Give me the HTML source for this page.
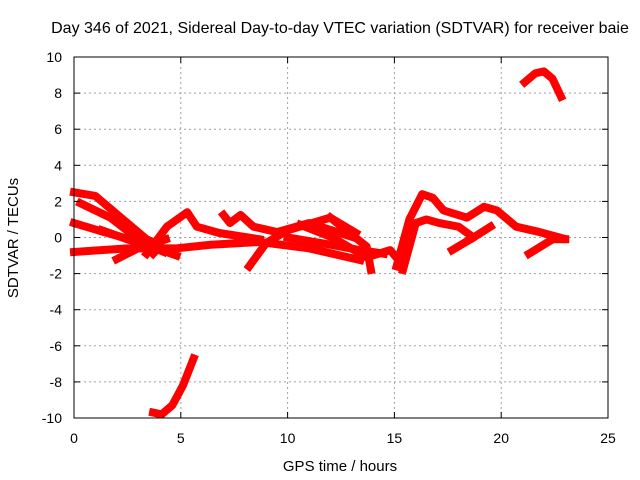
<!DOCTYPE html>
<html><head><meta charset="utf-8"><style>
body{margin:0;background:#fff}
svg{display:block;font-family:"Liberation Sans",sans-serif}
</style></head><body>
<svg id="chart" width="640" height="480">
<rect width="640" height="480" fill="#fff"/>
<g id="grid"></g><g id="tracks"></g><g id="axes"></g>
<text x="340" y="33" font-size="16" text-anchor="middle">Day 346 of 2021, Sidereal Day-to-day VTEC variation (SDTVAR) for receiver baie</text>
<text x="340" y="471" font-size="15" text-anchor="middle">GPS time / hours</text>
<text x="18" y="238" font-size="15" text-anchor="middle" transform="rotate(-90 18 238)">SDTVAR / TECUs</text>
</svg>
<script>
const xTicks=[0,5,10,15,20,25];
const yTicks=[-10,-8,-6,-4,-2,0,2,4,6,8,10];
const tAh=[0,1,1.4,2.5,3.4,4];           const tAv=[2.5,2.3,1.9,0.8,-0.1,-0.4];
const tBh=[0.3,1.7,2.9,3.7];             const tBv=[1.9,1.1,0,-0.9];
const tCh=[0,1.4,3.2,4.2];               const tCv=[0.8,0.3,-0.3,-0.8];
const tDh=[0,2.5,4.8,6.4,8.7,11,13.4];   const tDv=[-0.8,-0.6,-0.6,-0.4,-0.25,-0.6,-1.25];
const tEh=[3.4,4.35,5.3,5.75,6.8,8.7];   const tEv=[-0.9,0.6,1.4,0.6,0.25,-0.1];
const tFh=[7,7.3,7.8,8.4,9.5,11,13.1];   const tFv=[1.25,0.8,1.25,0.6,0.3,0.8,0];
const tGh=[8.2,9,10,12,13.2];            const tGv=[-1.6,-0.3,0.4,1.1,0.25];
const tHh=[1.3,2.5,3.6,4.8];             const tHv=[0.4,-0.1,-0.5,-1];
const tH2h=[2,3,4.3];                    const tH2v=[-1.2,-0.6,-0.1];
const tIh=[10.6,12.1,13.7,14.8,15.3];    const tIv=[0.7,0,-1.1,-0.7,-1.4];
const tJh=[12,13.7,13.9];                const tJv=[1.1,-0.5,-1.8];
const tKh=[15.1,15.7,16.3,16.8,17.3,18.4,19.2,19.8,20.7,21.8,22.9]; const tKv=[-1.6,1,2.4,2.2,1.5,1.1,1.7,1.5,0.6,0.3,-0.05];
const tLh=[15.4,16,16.5,17.1,18,18.7,17.7]; const tLv=[-1.8,0.8,1,0.8,0.6,0,-0.7];
const tMh=[18.7,19.5];                   const tMv=[0,0.6];
const tNh=[21.3,22.4,23];                const tNv=[-0.9,-0.1,-0.1];
const tOh=[10,12,13.4,14.5];             const tOv=[0,-0.4,-0.7,-0.9];
const tTopH=[21.1,21.6,22,22.4,22.8];    const tTopV=[8.6,9.1,9.2,8.8,7.8];
const tBotH=[3.7,4.1,4.6,5.1,5.6];       const tBotV=[-9.7,-9.8,-9.3,-8.2,-6.7];
const tracks=[[tAh,tAv],[tBh,tBv],[tCh,tCv],[tDh,tDv],[tEh,tEv],[tFh,tFv],[tGh,tGv],[tHh,tHv],[tH2h,tH2v],[tIh,tIv],[tJh,tJv],[tKh,tKv],[tLh,tLv],[tMh,tMv],[tNh,tNv],[tOh,tOv],[tTopH,tTopV],[tBotH,tBotV]];
const X0=74,X1=608,Y0=418,Y1=57;
const sx=h=>X0+(h-0)/(25-0)*(X1-X0);
const sy=v=>Y0-(v+10)/20*(Y0-Y1);
const NS="http://www.w3.org/2000/svg";
function mk(t,a,p){const e=document.createElementNS(NS,t);for(const k in a)e.setAttribute(k,a[k]);p.appendChild(e);return e;}
const grid=document.getElementById('grid'),axes=document.getElementById('axes'),tr=document.getElementById('tracks');
xTicks.forEach(t=>{const x=sx(t);
 if(t>0&&t<25){const l=mk('line',{x1:x,x2:x,y1:Y1,y2:Y0,stroke:'#a0a0a0','stroke-dasharray':'2,3'},grid);
 
 }
 mk('line',{x1:x,x2:x,y1:Y0,y2:Y0-6,stroke:'#000'},axes);mk('line',{x1:x,x2:x,y1:Y1,y2:Y1+6,stroke:'#000'},axes);
 const tx=mk('text',{x:x,y:Y0+25,'font-size':14,'text-anchor':'middle'},axes);tx.textContent=t;
 
 });
yTicks.forEach(t=>{const y=sy(t);
 if(t>-10&&t<10){const l=mk('line',{x1:X0,x2:X1,y1:y,y2:y,stroke:'#a0a0a0','stroke-dasharray':'2,3'},grid);
 
 }
 mk('line',{x1:X0,x2:X0+6,y1:y,y2:y,stroke:'#000'},axes);mk('line',{x1:X1,x2:X1-6,y1:y,y2:y,stroke:'#000'},axes);
 const tx=mk('text',{x:X0-12,y:y+5,'font-size':14,'text-anchor':'end'},axes);tx.textContent=t;
 
 });
const fr=mk('rect',{x:X0,y:Y1,width:X1-X0,height:Y0-Y1,fill:'none',stroke:'#000'},axes);


tracks.forEach(([hs,vs])=>{const pts=hs.map((h,i)=>sx(h)+','+sy(vs[i])).join(' ');
 const p=mk('polyline',{points:pts,fill:'none',stroke:'#f00','stroke-width':8,'stroke-linejoin':'round','stroke-linecap':'square'},tr);
 
 });
</script>
</body></html>
